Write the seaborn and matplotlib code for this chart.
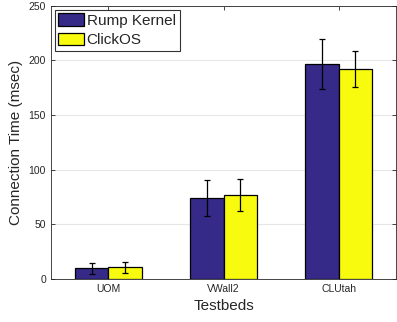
import matplotlib
matplotlib.use("Agg")
import matplotlib.pyplot as plt
import seaborn as sns
import pandas as pd
import numpy as np

testbeds = ["UOM", "VWall2", "CLUtah"]
series = ["Rump Kernel", "ClickOS"]
rump_vals = [9.8, 73.9, 196.9]
click_vals = [10.4, 76.6, 192.3]
rump_err = [4.9, 16.7, 23.0]
click_err = [5.0, 14.5, 16.7]
colors = ["#352a87", "#f9fb0e"]

df = pd.DataFrame({
    "Testbed": testbeds * 2,
    "System": [series[0]] * 3 + [series[1]] * 3,
    "Time": rump_vals + click_vals,
})
errs = rump_err + click_err

sns.set_style("white")
plt.rcParams['font.family'] = ['Liberation Sans', 'DejaVu Sans']

fig = plt.figure(figsize=(3.97, 3.22), dpi=100)
ax = fig.add_axes([0.128, 0.134, 0.87, 0.848])

sns.barplot(data=df, x="Testbed", y="Time", hue="System", order=testbeds,
            hue_order=series, palette=colors, width=0.58, errorbar=None,
            edgecolor="black", linewidth=0.9, saturation=1, ax=ax, zorder=2)

patches = [p for p in ax.patches if p.get_height() > 0][:6]
for p, e in zip(patches, errs):
    cx = p.get_x() + p.get_width() / 2
    ax.errorbar(cx, p.get_height(), yerr=e, fmt="none", ecolor="black",
                elinewidth=0.9, capsize=2.5, capthick=0.9, zorder=3)

ax.set_xlim(-0.5, 2.5)
ax.set_ylim(0, 250)
ax.set_yticks([0, 50, 100, 150, 200, 250])
ax.yaxis.grid(True, color="#e6e6e6", linewidth=0.8, zorder=0)
ax.set_axisbelow(True)
ax.set_xlabel("Testbeds", fontsize=11, color="#262626")
ax.set_ylabel("Connection Time (msec)", fontsize=11, color="#262626")
ax.tick_params(axis="both", labelsize=7.5, colors="#262626", direction="in",
               length=3, width=0.6, top=True, right=True, bottom=True, left=True)
for s in ax.spines.values():
    s.set_color("#262626")
    s.set_linewidth(0.6)
    s.set_visible(True)

leg = ax.legend(loc="upper left", fontsize=11, frameon=True, fancybox=False,
                edgecolor="black", borderaxespad=0.25, handlelength=1.65,
                handleheight=0.9, borderpad=0.25, labelspacing=0.3,
                handletextpad=0.2, title=None)
leg.get_frame().set_linewidth(0.8)

fig.savefig("out.png", dpi=100)
